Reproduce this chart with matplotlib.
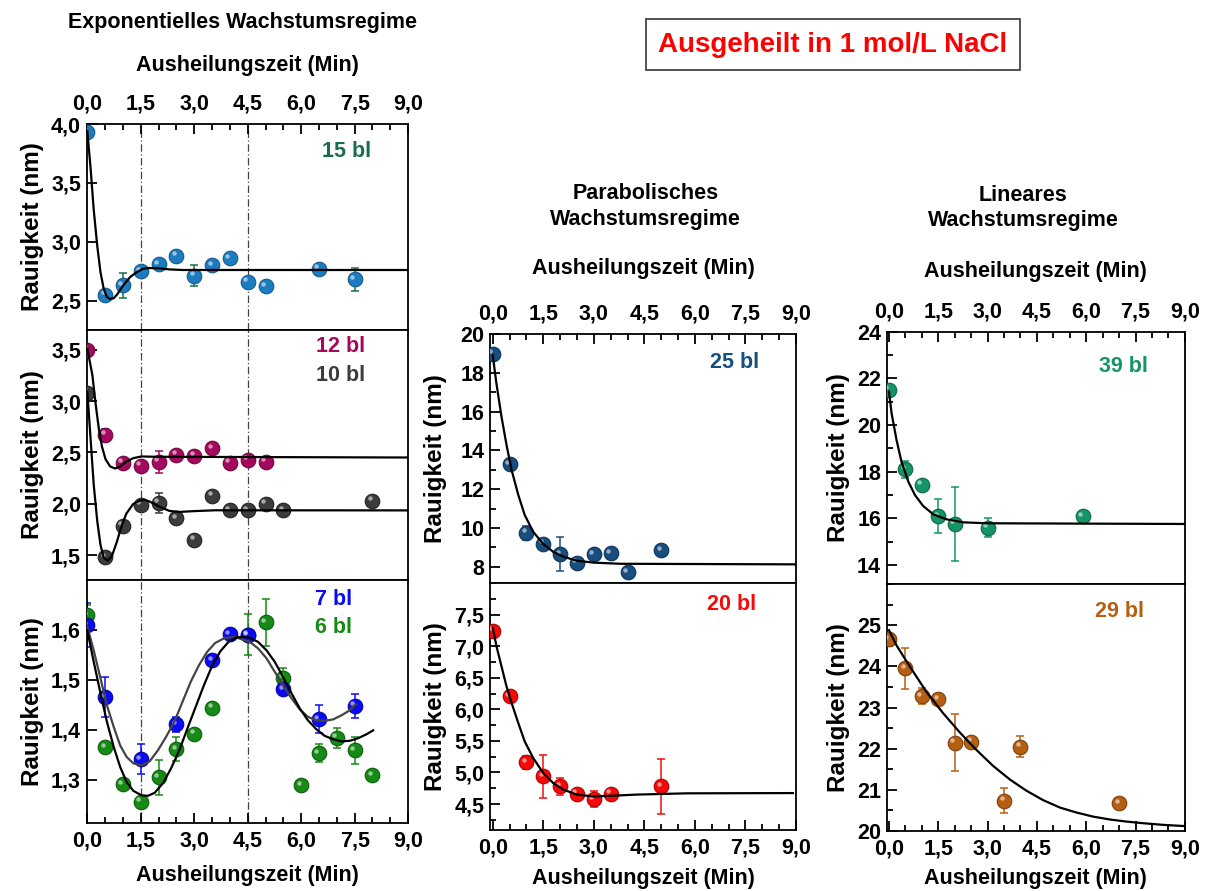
import numpy as np
import matplotlib.pyplot as plt
from matplotlib.ticker import MultipleLocator
from matplotlib import transforms

plt.rcParams['font.family'] = ['Liberation Sans', 'DejaVu Sans']
plt.rcParams['font.weight'] = 'bold'
plt.rcParams['axes.labelweight'] = 'bold'
plt.rcParams['axes.linewidth'] = 1.3

# ---------- Daten ----------
# 15 bl
t15 = [0, 0.5, 1.0, 1.5, 2.0, 2.5, 3.0, 3.5, 4.0, 4.5, 5.0, 6.5, 7.5]
r15 = [3.93, 2.55, 2.63, 2.75, 2.81, 2.88, 2.71, 2.80, 2.86, 2.66, 2.62, 2.77, 2.68]
e15 = [0, 0, 0.105, 0, 0.015, 0, 0.09, 0.015, 0.015, 0.02, 0, 0, 0.1]
fit15_t = [0, 0.09, 0.18, 0.28, 0.37, 0.46, 0.55, 0.64, 0.74, 0.83, 1.01, 1.2, 1.38, 1.56, 1.75, 2.02, 2.3, 2.67, 9.0]
fit15_r = [3.94, 3.63, 3.27, 2.96, 2.74, 2.60, 2.53, 2.514, 2.52, 2.55, 2.63, 2.70, 2.74, 2.77, 2.777, 2.774, 2.765, 2.76, 2.76]

# 12 bl
t12 = [0, 0.5, 1.0, 1.5, 2.0, 2.5, 3.0, 3.5, 4.0, 4.5, 5.0]
r12 = [3.50, 2.67, 2.40, 2.37, 2.41, 2.48, 2.47, 2.54, 2.40, 2.43, 2.41]
e12 = [0.02, 0.06, 0, 0, 0.105, 0, 0, 0, 0, 0.02, 0]
fit12_t = [0, 0.14, 0.23, 0.32, 0.41, 0.51, 0.64, 0.78, 0.92, 1.1, 1.29, 1.52, 1.93, 9.0]
fit12_r = [3.51, 3.256, 2.98, 2.737, 2.558, 2.435, 2.364, 2.344, 2.364, 2.412, 2.445, 2.461, 2.458, 2.451]

# 10 bl
t10 = [0, 0.5, 1.0, 1.5, 2.0, 2.5, 3.0, 3.5, 4.0, 4.5, 5.0, 5.5, 8.0]
r10 = [3.08, 1.48, 1.79, 1.99, 2.01, 1.86, 1.65, 2.08, 1.94, 1.94, 2.00, 1.94, 2.03]
e10 = [0, 0.03, 0, 0, 0.1, 0, 0, 0, 0, 0, 0, 0, 0]
fit10_t = [0, 0.09, 0.18, 0.28, 0.37, 0.46, 0.57, 0.69, 0.83, 0.97, 1.1, 1.29, 1.47, 1.61, 1.75,
           2.02, 2.3, 2.58, 2.94, 3.59, 9.0]
fit10_r = [3.094, 2.64, 2.185, 1.828, 1.60, 1.477, 1.448, 1.493, 1.633, 1.795, 1.909, 2.0, 2.032, 2.039, 2.023,
           1.974, 1.932, 1.922, 1.929, 1.938, 1.937]

# 7 bl
t7 = [0, 0.5, 1.5, 2.5, 3.5, 4.0, 4.5, 5.5, 6.5, 7.5]
r7 = [1.609, 1.465, 1.341, 1.411, 1.539, 1.591, 1.589, 1.481, 1.421, 1.448]
e7 = [0.044, 0.04, 0.03, 0.015, 0, 0, 0, 0, 0.028, 0.024]
fit7_t = [0, 0.18, 0.37, 0.55, 0.74, 0.92, 1.1, 1.29, 1.52, 1.75, 1.98, 2.21, 2.44, 2.67, 2.9, 3.13, 3.36,
          3.59, 3.86, 4.14, 4.42, 4.56, 4.79, 5.03, 5.26, 5.49, 5.73, 5.96, 6.19, 6.43, 6.66, 6.9, 7.13, 7.36, 7.53]
fit7_r = [1.606, 1.559, 1.503, 1.449, 1.406, 1.369, 1.346, 1.333, 1.329, 1.337, 1.359, 1.386, 1.416, 1.456,
          1.496, 1.529, 1.556, 1.574, 1.584, 1.586, 1.579, 1.576, 1.563, 1.543, 1.516, 1.489, 1.463, 1.441,
          1.426, 1.419, 1.418, 1.421, 1.429, 1.439, 1.451]

# 6 bl
t6 = [0, 0.5, 1.0, 1.5, 2.0, 2.5, 3.0, 3.5, 4.5, 5.0, 5.5, 6.0, 6.5, 7.0, 7.5, 8.0]
r6 = [1.629, 1.365, 1.291, 1.256, 1.305, 1.361, 1.392, 1.444, 1.59, 1.615, 1.504, 1.289, 1.353, 1.384, 1.359, 1.309]
e6 = [0.02, 0, 0.01, 0, 0.035, 0.024, 0, 0, 0.041, 0.047, 0.02, 0, 0.018, 0.02, 0.027, 0]
fit6_t = [0, 0.18, 0.37, 0.55, 0.74, 0.92, 1.1, 1.29, 1.52, 1.7, 1.89, 2.12, 2.35, 2.58, 2.81, 3.04, 3.27,
          3.5, 3.73, 3.96, 4.19, 4.42, 4.56, 4.79, 5.03, 5.26, 5.49, 5.73, 5.96, 6.19, 6.43, 6.66, 6.9, 7.13,
          7.36, 7.59, 7.83, 8.02]
fit6_r = [1.599, 1.536, 1.473, 1.416, 1.366, 1.326, 1.296, 1.278, 1.269, 1.268, 1.274, 1.293, 1.323, 1.359,
          1.403, 1.446, 1.489, 1.528, 1.557, 1.576, 1.585, 1.586, 1.584, 1.576, 1.559, 1.536, 1.506, 1.473,
          1.443, 1.419, 1.401, 1.388, 1.381, 1.377, 1.378, 1.383, 1.391, 1.399]

# 25 bl
t25 = [0, 0.5, 1.0, 1.5, 2.0, 2.5, 3.0, 3.5, 4.0, 5.0]
r25 = [18.99, 13.27, 9.75, 9.17, 8.64, 8.20, 8.65, 8.69, 7.71, 8.86]
e25 = [0, 0, 0.36, 0, 0.88, 0, 0, 0, 0, 0]
fit25_t = [0, 0.11, 0.26, 0.41, 0.56, 0.76, 0.95, 1.2, 1.5, 1.8, 2.09, 2.49, 2.99, 3.78, 9.0]
fit25_r = [18.9, 17.44, 15.73, 14.27, 12.98, 11.69, 10.66, 9.80, 9.17, 8.76, 8.52, 8.31, 8.21, 8.15, 8.12]

# 20 bl
t20 = [0, 0.5, 1.0, 1.5, 2.0, 2.5, 3.0, 3.5, 5.0]
r20 = [7.24, 6.21, 5.16, 4.94, 4.78, 4.66, 4.58, 4.66, 4.78]
e20 = [0, 0, 0.1, 0.34, 0.14, 0, 0.12, 0, 0.44]
fit20_t = [0, 0.11, 0.26, 0.41, 0.56, 0.76, 0.95, 1.2, 1.5, 1.8, 2.09, 2.49, 2.99, 3.48, 4.27, 5.76, 8.91]
fit20_r = [7.29, 7.0, 6.68, 6.36, 6.10, 5.78, 5.49, 5.23, 4.99, 4.83, 4.73, 4.65, 4.62, 4.63, 4.65, 4.67, 4.674]

# 39 bl
t39 = [0, 0.5, 1.0, 1.5, 2.0, 3.0, 5.9]
r39 = [21.5, 18.1, 17.43, 16.1, 15.76, 15.6, 16.1]
e39 = [0, 0.36, 0, 0.71, 1.6, 0.4, 0]
fit39_t = [0, 0.08, 0.23, 0.38, 0.59, 0.79, 1.04, 1.35, 1.75, 2.26, 2.97, 9.0]
fit39_r = [21.43, 20.5, 19.36, 18.43, 17.57, 17.0, 16.53, 16.17, 15.96, 15.83, 15.79, 15.76]

# 29 bl
t29 = [0, 0.5, 1.0, 1.5, 2.0, 2.5, 3.5, 4.0, 7.0]
r29 = [24.66, 23.95, 23.28, 23.2, 22.15, 22.17, 20.74, 22.05, 20.67]
e29 = [0, 0.49, 0.2, 0, 0.7, 0, 0.31, 0.25, 0]
fit29_t = [0, 0.23, 0.64, 1.14, 1.65, 2.16, 2.66, 3.17, 3.68, 4.18, 4.69, 5.2, 5.7, 6.21, 6.72, 7.22,
           7.73, 8.34, 9.0]
fit29_r = [24.88, 24.51, 23.99, 23.38, 22.86, 22.39, 21.97, 21.58, 21.25, 20.98, 20.75, 20.57, 20.45,
           20.35, 20.28, 20.23, 20.19, 20.15, 20.12]

x_ticks = [0, 1.5, 3.0, 4.5, 6.0, 7.5, 9.0]
x_labels = ['0,0', '1,5', '3,0', '4,5', '6,0', '7,5', '9,0']

fig = plt.figure(figsize=(12.07, 8.91), dpi=100)


def balls(ax, t, r, e, color, edge, ecolor=None):
    # Kugel-Marker mit kleinem Glanzpunkt
    ax.errorbar(t, r, yerr=e, fmt='none', ecolor=ecolor or color, elinewidth=1.1,
                capsize=3, capthick=1.1, zorder=2)
    ax.plot(t, r, 'o', ms=10.5, color=color, mec=edge, mew=0.8, zorder=3)
    hl = transforms.offset_copy(ax.transData, fig=fig, x=-1.8, y=1.8, units='points')
    ax.plot(t, r, 'o', ms=3.2, color='white', mec='none', alpha=0.55, transform=hl, zorder=3.5)


def style(ax, xleft, where, yt, ytl, yminor=None, labelpad=14):
    ax.set_xlim(xleft, 9.0)
    ax.set_xticks(x_ticks, x_labels)
    ax.xaxis.set_minor_locator(MultipleLocator(0.5))
    ax.set_yticks(yt, ytl)
    if yminor:
        ax.yaxis.set_minor_locator(MultipleLocator(yminor))
    ax.tick_params(which='both', direction='in', right=False, left=True,
                   top=(where == 'top'), bottom=(where == 'bottom'),
                   labeltop=(where == 'top'), labelbottom=(where == 'bottom'),
                   labelsize=15.5, width=1.3)
    ax.tick_params(which='major', length=7)
    ax.tick_params(which='minor', length=4)
    ax.tick_params(axis='x', pad=6.5 if where == 'top' else 5.5)
    ax.tick_params(axis='y', pad=4)
    if where == 'top':
        ax.xaxis.set_label_position('top')
    if where != 'none':
        ax.set_xlabel('Ausheilungszeit (Min)', fontsize=15.5, labelpad=labelpad)
    ax.set_ylabel('Rauigkeit (nm)', fontsize=17.5)


# ---------- Exponentielles Regime ----------
ax1 = fig.add_axes([0.0717, 0.6296, 0.2664, 0.2312])
ax2 = fig.add_axes([0.0717, 0.3490, 0.2664, 0.2806])
ax3 = fig.add_axes([0.0717, 0.0760, 0.2664, 0.2731])

balls(ax1, t15, r15, e15, '#1d7bbf', '#135a8c', ecolor='#17704a')
ax1.plot(fit15_t, fit15_r, color='black', lw=1.6, zorder=4)
ax1.set_ylim(2.25, 4.0)
style(ax1, -0.022, 'top', [2.5, 3.0, 3.5, 4.0], ['2,5', '3,0', '3,5', '4,0'], labelpad=16.5)
ax1.text(0.81, 0.869, '15 bl', transform=ax1.transAxes, color='#17704a', fontsize=15.5,
         ha='center', va='center')

balls(ax2, t10, r10, e10, '#3c3c3c', '#222222')
balls(ax2, t12, r12, e12, '#a3095c', '#70063f')
ax2.plot(fit12_t, fit12_r, color='black', lw=1.6, zorder=4)
ax2.plot(fit10_t, fit10_r, color='black', lw=1.6, zorder=4)
ax2.set_ylim(1.26, 3.69)
style(ax2, -0.022, 'none', [1.5, 2.0, 2.5, 3.0, 3.5], ['1,5', '2,0', '2,5', '3,0', '3,5'])
ax2.text(0.789, 0.933, '12 bl', transform=ax2.transAxes, color='#a3095c', fontsize=15.5,
         ha='center', va='center')
ax2.text(0.789, 0.82, '10 bl', transform=ax2.transAxes, color='#3c3c3c', fontsize=15.5,
         ha='center', va='center')

balls(ax3, t6, r6, e6, '#158a15', '#0d5e0d')
balls(ax3, t7, r7, e7, '#0a0af5', '#0606a8')
ax3.plot(fit7_t, fit7_r, color='#444444', lw=1.6, zorder=4)
ax3.plot(fit6_t, fit6_r, color='black', lw=1.6, zorder=4)
ax3.set_ylim(1.213, 1.70)
style(ax3, -0.022, 'bottom', [1.3, 1.4, 1.5, 1.6], ['1,3', '1,4', '1,5', '1,6'], labelpad=9.5)
ax3.text(0.768, 0.919, '7 bl', transform=ax3.transAxes, color='#0a0af5', fontsize=15.5,
         ha='center', va='center')
ax3.text(0.768, 0.806, '6 bl', transform=ax3.transAxes, color='#158a15', fontsize=15.5,
         ha='center', va='center')

for ax in (ax1, ax2, ax3):
    for xv in (1.5, 4.5):
        ax.axvline(xv, color='#444444', lw=0.9, ls=(0, (6, 2, 1, 2)), zorder=1)
    ax.yaxis.set_label_coords(-0.132, 0.5)

# ---------- Parabolisches Regime ----------
ax4 = fig.add_axes([0.406, 0.3457, 0.2535, 0.2795])
ax5 = fig.add_axes([0.406, 0.0685, 0.2535, 0.2772])

balls(ax4, t25, r25, e25, '#174e7e', '#0e3356')
ax4.plot(fit25_t, fit25_r, color='black', lw=1.6, zorder=4)
ax4.set_ylim(7.16, 20)
style(ax4, -0.08, 'top', [8, 10, 12, 14, 16, 18, 20], ['8', '10', '12', '14', '16', '18', '20'],
      yminor=1, labelpad=21.5)
ax4.text(0.80, 0.885, '25 bl', transform=ax4.transAxes, color='#174e7e', fontsize=15.5,
         ha='center', va='center')

balls(ax5, t20, r20, e20, '#f50a0a', '#b00000')
ax5.plot(fit20_t, fit20_r, color='black', lw=1.6, zorder=4)
ax5.set_ylim(4.09, 8.0)
style(ax5, -0.08, 'bottom', [4.5, 5.0, 5.5, 6.0, 6.5, 7.0, 7.5],
      ['4,5', '5,0', '5,5', '6,0', '6,5', '7,0', '7,5'], yminor=0.25, labelpad=6.5)
ax5.text(0.79, 0.911, '20 bl', transform=ax5.transAxes, color='#f50a0a', fontsize=15.5,
         ha='center', va='center')
for ax in (ax4, ax5):
    ax.yaxis.set_label_coords(-0.14, 0.5)

# ---------- Lineares Regime ----------
ax6 = fig.add_axes([0.7346, 0.3446, 0.2471, 0.2832])
ax7 = fig.add_axes([0.7346, 0.0673, 0.2471, 0.2772])

balls(ax6, t39, r39, e39, '#159467', '#0c6646')
ax6.plot(fit39_t, fit39_r, color='black', lw=1.6, zorder=4)
ax6.set_ylim(13.19, 24)
style(ax6, -0.07, 'top', [14, 16, 18, 20, 22, 24], ['14', '16', '18', '20', '22', '24'],
      yminor=1, labelpad=17.5)
ax6.text(0.793, 0.861, '39 bl', transform=ax6.transAxes, color='#159467', fontsize=15.5,
         ha='center', va='center')

balls(ax7, t29, r29, e29, '#b55f12', '#7d400a')
ax7.plot(fit29_t, fit29_r, color='black', lw=1.6, zorder=4)
ax7.set_ylim(20, 26)
style(ax7, -0.07, 'bottom', [20, 21, 22, 23, 24, 25], ['20', '21', '22', '23', '24', '25'],
      yminor=0.5, labelpad=6)
ax7.text(0.782, 0.888, '29 bl', transform=ax7.transAxes, color='#b55f12', fontsize=15.5,
         ha='center', va='center')
for ax in (ax6, ax7):
    ax.yaxis.set_label_coords(-0.123, 0.5)

# ---------- Texte ----------
fig.text(0.2013, 0.9742, 'Exponentielles Wachstumsregime', ha='center', va='center', fontsize=15.5)
fig.text(0.535, 0.7682, 'Parabolisches\nWachstumsregime', ha='center', va='center', fontsize=15.5,
         linespacing=1.3)
fig.text(0.8478, 0.7666, 'Lineares\nWachstumsregime', ha='center', va='center', fontsize=15.5,
         linespacing=1.3)
fig.text(0.6901, 0.95, 'Ausgeheilt in 1 mol/L NaCl', ha='center', va='center', fontsize=20,
         color='red', bbox=dict(boxstyle='square,pad=0.45', fc='white', ec='#444444', lw=1.3))

fig.savefig('out.png', dpi=100)
